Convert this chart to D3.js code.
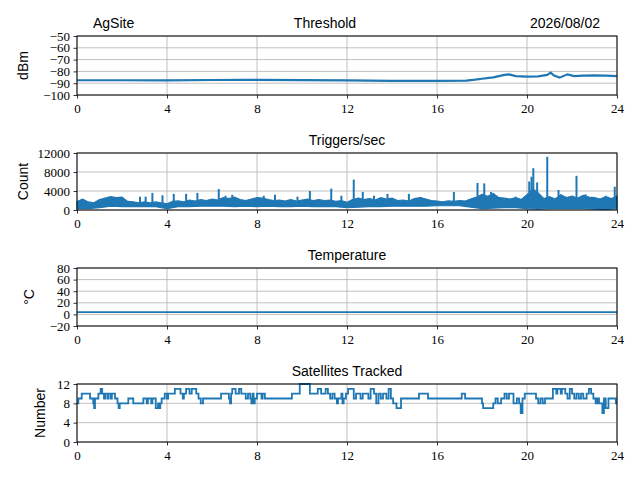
<html>
<head>
<script src="https://d3js.org/d3.v7.min.js"></script>
<style>
  body { margin: 0; background: white; }
  svg text { fill: black; }
  .tick text { font-family: "Liberation Serif", "DejaVu Serif", serif; font-size: 13px; }
  .lbl { font-family: "Liberation Sans", "DejaVu Sans", sans-serif; font-size: 14px; }
</style>
</head>
<body>
<svg id="chart" width="640" height="480"></svg>
<script>
// hours of day on x for every panel
const xTicks = [0, 4, 8, 12, 16, 20, 24];

// Threshold (dBm)
const thrTime = [0, 2, 4, 6, 7.5, 10, 12, 14, 16, 17.3, 17.7, 18, 18.5, 19, 19.2, 19.5, 20, 20.5, 20.9, 21.05, 21.2, 21.45, 21.8, 22.1, 22.5, 23, 23.5, 24];
const thrValue = [-87.5, -87.5, -87.6, -87.3, -87.2, -87.4, -87.6, -88, -88, -87.8, -87, -86.2, -85, -83, -82.5, -84, -84.5, -84.2, -83, -81, -83.5, -85.3, -82.5, -84, -83.5, -83.3, -83.5, -84];
const thrTicks = [-50, -60, -70, -80, -90, -100];

// Triggers/sec: upper edge of the noisy trace every quarter hour,
// lower edge every half hour, plus spikes
const trigHighTime = d3.range(0, 24.01, 0.25);
const trigHigh = [1800, 2300, 1700, 1500, 2200, 2500, 2800, 2600, 2700, 1800, 1700, 1500, 1700, 1500, 1700, 1500,
  1300, 1800, 1900, 1700, 2100, 1900, 2200, 2000, 2300, 2100, 2600, 2400, 2700, 2200, 2000, 2300,
  2600, 2500, 2200, 2000, 2100, 1900, 2200, 1900, 2100, 2300, 2000, 2200, 2000, 2100, 1800, 2000,
  1600, 2200, 2500, 2200, 2400, 2100, 2600, 2300, 2500, 2000, 2100, 1900, 2400, 2600, 2300, 2000,
  1900, 1700, 1900, 1800, 2000, 1900, 2300, 2700, 3300, 2900, 3500, 2600, 2500, 2300, 2600, 2200,
  3200, 4500, 3600, 2400, 2800, 2300, 3200, 2600, 2900, 2500, 3100, 2700, 2600, 2300, 2800, 2400, 2900];
const trigLowTime = d3.range(0, 24.01, 0.5);
const trigLow = [300, 300, 500, 800, 700, 700, 700, 700, 300, 700, 700, 800, 800, 800, 700, 800, 700, 800, 700, 700, 800, 700, 700, 700, 500,
  600, 700, 700, 800, 800, 800, 800, 900, 900, 900, 600, 300, 400, 500, 500, 300, 200, 300, 300, 300, 300, 200, 100, 300];
const spikeTime = [0.2, 2.8, 3.05, 3.35, 3.8, 4.3, 4.85, 5.35, 6.3, 6.6, 6.9, 8.3, 8.8, 9.8, 10.35, 11.3, 11.75, 12.3, 12.7, 13.2, 13.8, 14.75, 15.3, 16.75, 17.8, 18.1, 18.4, 19.5, 20.1, 20.2, 20.28, 20.45, 20.9, 21.4, 22.2, 22.6, 23.5, 23.9];
const spikePeak = [2300, 2800, 2800, 3600, 3100, 3400, 3400, 3600, 4400, 3000, 3200, 3000, 3200, 2800, 4000, 4500, 3000, 6400, 3800, 3000, 3400, 3400, 2700, 3800, 5700, 5600, 3800, 2800, 6000, 7000, 8800, 5800, 11200, 4200, 7200, 3300, 3000, 4900];
const trigTicks = [0, 4000, 8000, 12000];

// Temperature (deg C)
const tempTime = [0, 6, 12, 18, 24];
const tempValue = [4, 4, 4, 4, 4];
const tempTicks = [80, 60, 40, 20, 0, -20];

// Satellites tracked (step trace)
const satTime = [0, 0.06, 0.21, 0.58, 0.72, 0.76, 0.8, 0.95, 1.05, 1.12, 1.2, 1.25, 1.35, 1.4, 1.5, 1.55, 1.69, 1.8, 1.85, 1.9, 2.28, 2.5, 2.95, 3.1, 3.15, 3.3, 3.35, 3.5, 3.6, 3.65, 3.7, 3.76, 3.9, 4.0, 4.05, 4.35, 4.6, 4.7, 4.75, 4.85, 5.0, 5.1, 5.3, 5.4, 5.5, 5.6, 6.4, 6.75, 6.8, 6.85, 6.9, 7.05, 7.2, 7.3, 7.5, 7.6, 7.7, 7.75, 7.8, 7.85, 7.9, 8.0, 8.2, 8.25, 8.35, 9.55, 9.9, 10.35, 10.7, 10.85, 11.05, 11.15, 11.25, 11.35, 11.45, 11.55, 11.6, 11.75, 11.8, 11.85, 11.95, 12.05, 12.3, 12.4, 12.6, 12.7, 12.95, 13.05, 13.2, 13.3, 13.4, 13.5, 13.6, 13.75, 13.85, 13.95, 14.05, 14.2, 14.4, 14.5, 15.2, 15.6, 17.1, 17.25, 18.0, 18.05, 18.5, 18.6, 18.7, 18.85, 19.0, 19.1, 19.2, 19.4, 19.55, 19.65, 19.72, 19.8, 19.9, 20.4, 20.5, 20.6, 20.7, 20.8, 21.15, 21.3, 21.35, 21.5, 21.55, 21.7, 21.8, 21.9, 22.0, 22.1, 22.2, 22.3, 22.4, 22.5, 22.65, 22.75, 22.85, 22.95, 23.05, 23.13, 23.2, 23.35, 23.42, 23.5, 23.62, 23.95, 24];
const satValue = [8, 9, 10, 9, 8, 7, 9, 10, 11, 10, 9, 10, 9, 10, 9, 10, 9, 8, 7, 8, 9, 8, 9, 8, 9, 8, 9, 7, 8, 7, 8, 9, 10, 9, 10, 11, 10, 9, 10, 11, 10, 11, 10, 9, 8, 9, 10, 9, 8, 10, 11, 10, 11, 10, 9, 10, 9, 8, 10, 8, 9, 10, 9, 10, 9, 10, 12, 10, 11, 10, 11, 10, 9, 10, 9, 8, 9, 10, 8, 9, 10, 11, 9, 10, 9, 10, 9, 11, 10, 8, 10, 9, 10, 9, 11, 9, 8, 7, 9, 9, 10, 9, 10, 9, 8, 7, 8, 9, 8, 9, 10, 9, 10, 8, 9, 8, 6, 9, 10, 9, 8, 9, 8, 9, 11, 10, 11, 10, 11, 10, 9, 11, 10, 9, 10, 9, 10, 9, 10, 11, 10, 9, 8, 9, 8, 6, 9, 7, 9, 8, 8, 9, 9];
const satTicks = [0, 4, 8, 12];

const blue = "#1f77b4";
const svg = d3.select("#chart");
const left = 77, right = 617;
const x = d3.scaleLinear().domain([0, 24]).range([left, right]);

const panels = [
  { top: 36, bottom: 95, domain: [-100, -50], ticks: thrTicks, title: "Threshold", titleX: 325, ylabel: "dBm", labelX: 28 },
  { top: 153, bottom: 210, domain: [0, 12000], ticks: trigTicks, title: "Triggers/sec", titleX: 347, ylabel: "Count", labelX: 28 },
  { top: 268, bottom: 326, domain: [-20, 80], ticks: tempTicks, title: "Temperature", titleX: 347, ylabel: "°C", labelX: 34 },
  { top: 384, bottom: 442, domain: [0, 12], ticks: satTicks, title: "Satellites Tracked", titleX: 347, ylabel: "Number", labelX: 45 }
];

panels.forEach(p => {
  p.y = d3.scaleLinear().domain(p.domain).range([p.bottom, p.top]);
  const g = svg.append("g");

  // grid
  g.selectAll(".vg").data(xTicks).enter().append("line")
    .attr("x1", d => x(d)).attr("x2", d => x(d))
    .attr("y1", p.top).attr("y2", p.bottom)
    .attr("stroke", "#b0b0b0").attr("stroke-width", 0.8);
  g.selectAll(".hg").data(p.ticks).enter().append("line")
    .attr("x1", left).attr("x2", right)
    .attr("y1", d => p.y(d)).attr("y2", d => p.y(d))
    .attr("stroke", "#b0b0b0").attr("stroke-width", 0.8);

  p.g = g.append("g");

  // axes
  const ax = g.append("g").attr("transform", "translate(0," + p.bottom + ")")
    .call(d3.axisBottom(x).tickValues(xTicks).tickSize(3.5).tickPadding(3.5).tickFormat(d3.format("d")));
  const ay = g.append("g").attr("transform", "translate(" + left + ",0)")
    .call(d3.axisLeft(p.y).tickValues(p.ticks).tickSize(3.5).tickPadding(3.5).tickFormat(d3.format("d")));
  [ax, ay].forEach(a => {
    a.select(".domain").remove();
    a.selectAll(".tick line").attr("stroke", "black").attr("stroke-width", 0.8);
  });
  ax.selectAll(".tick text").attr("dy", "0.85em");

  svg.append("text").attr("class", "lbl")
    .attr("x", p.titleX).attr("y", p.top - 8)
    .attr("text-anchor", "middle").text(p.title);

  svg.append("text").attr("class", "lbl")
    .attr("transform", "translate(" + p.labelX + "," + (p.top + p.bottom) / 2 + ") rotate(-90)")
    .attr("text-anchor", "middle").text(p.ylabel);
});

// site and date beside the first title
svg.append("text").attr("class", "lbl").attr("x", 93).attr("y", 28).text("AgSite");
svg.append("text").attr("class", "lbl").attr("x", 600).attr("y", 28).attr("text-anchor", "end").text("2026/08/02");

// Threshold
const p0 = panels[0];
p0.g.append("path")
  .datum(d3.zip(thrTime, thrValue))
  .attr("fill", "none").attr("stroke", blue).attr("stroke-width", 2.2)
  .attr("d", d3.line().x(d => x(d[0])).y(d => p0.y(d[1])));

// Triggers/sec band: upper edge forward, lower edge back
const p1 = panels[1];
const bandPts = d3.zip(trigHighTime, trigHigh).concat(d3.zip(trigLowTime, trigLow).reverse());
p1.g.append("path")
  .datum(bandPts)
  .attr("fill", blue).attr("stroke", blue).attr("stroke-width", 1.2).attr("stroke-linejoin", "miter")
  .attr("d", d3.line().x(d => x(d[0])).y(d => p1.y(d[1])).curve(d3.curveLinearClosed));
const hiAt = d3.scaleLinear().domain(trigHighTime).range(trigHigh);
p1.g.selectAll(".spike").data(d3.zip(spikeTime, spikePeak)).enter().append("line")
  .attr("x1", d => x(d[0])).attr("x2", d => x(d[0]))
  .attr("y1", d => p1.y(hiAt(d[0]))).attr("y2", d => p1.y(d[1]))
  .attr("stroke", blue).attr("stroke-width", 2);

// Temperature
const p2 = panels[2];
p2.g.append("path")
  .datum(d3.zip(tempTime, tempValue))
  .attr("fill", "none").attr("stroke", blue).attr("stroke-width", 1.8)
  .attr("d", d3.line().x(d => x(d[0])).y(d => p2.y(d[1])));

// Satellites
const p3 = panels[3];
p3.g.append("path")
  .datum(d3.zip(satTime, satValue))
  .attr("fill", "none").attr("stroke", blue).attr("stroke-width", 1.8)
  .attr("d", d3.line().curve(d3.curveStepAfter).x(d => x(d[0])).y(d => p3.y(d[1])));

// frames on top
panels.forEach(p => {
  svg.append("rect").attr("x", left).attr("y", p.top)
    .attr("width", right - left).attr("height", p.bottom - p.top)
    .attr("fill", "none").attr("stroke", "black").attr("stroke-width", 1);
});
</script>
</body>
</html>
